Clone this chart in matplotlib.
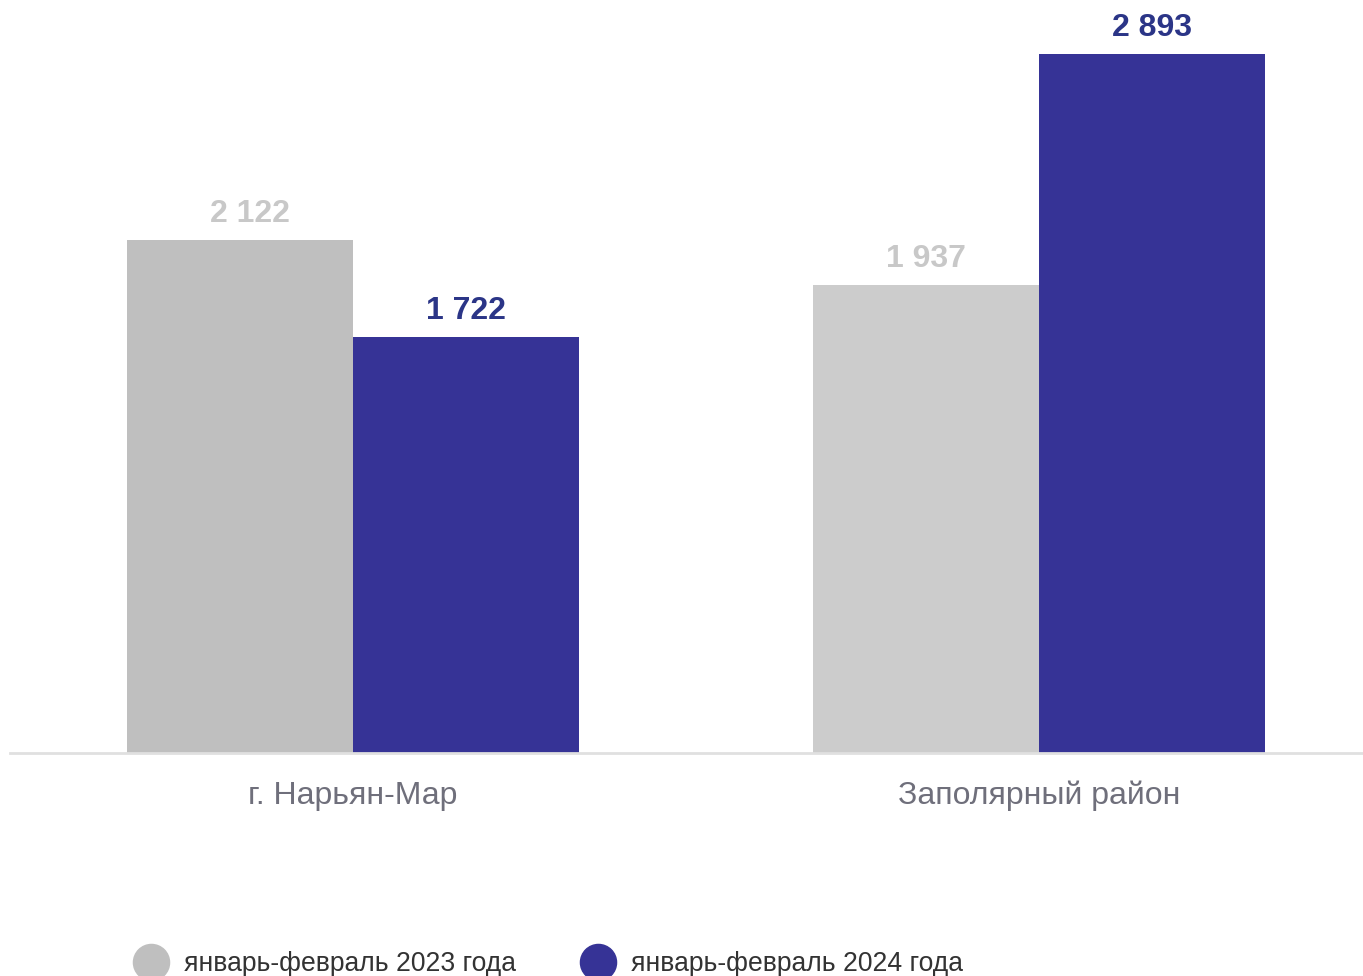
import matplotlib
matplotlib.use("Agg")
import matplotlib.pyplot as plt
from matplotlib.lines import Line2D
import numpy as np

plt.rcParams['font.family'] = ['Liberation Sans', 'DejaVu Sans']

categories = ['г. Нарьян-Мар', 'Заполярный район']
values_2023 = [2122, 1937]
values_2024 = [1722, 2893]
labels_2023 = ['2 122', '1 937']
labels_2024 = ['1 722', '2 893']
series_names = ['январь-февраль 2023 года', 'январь-февраль 2024 года']

grey_bars = ['#bfbfbf', '#cccccc']
blue = '#363396'
grey_text = '#c8c8c8'
blue_text = '#2b3587'

fig = plt.figure(figsize=(13.63, 9.76), dpi=100)
ax = fig.add_axes([10 / 1363, 0.2285, 1353 / 1363, 0.7715])

x = np.arange(len(categories))
w = 226 / 686

ax.bar(x - w / 2, values_2023, width=w, color=grey_bars, linewidth=0)
ax.bar(x + w / 2, values_2024, width=w, color=blue, linewidth=0)

for i in range(len(categories)):
    ax.annotate(labels_2023[i], (x[i] - w / 2, values_2023[i]), xytext=(7 if i == 0 else 0, 8),
                textcoords='offset points', ha='center', va='bottom',
                fontsize=23, fontweight='bold', color=grey_text)
    ax.annotate(labels_2024[i], (x[i] + w / 2, values_2024[i]), xytext=(0, 8),
                textcoords='offset points', ha='center', va='bottom',
                fontsize=23, fontweight='bold', color=blue_text)

ax.set_xlim(-0.5, 1.472)
ax.set_ylim(0, 3117)
ax.set_xticks(x)
ax.set_xticklabels(categories, fontsize=23, color='#6f6f7b')
ax.tick_params(axis='x', length=0, pad=20)
ax.set_yticks([])
for s in ['top', 'right', 'left']:
    ax.spines[s].set_visible(False)
ax.spines['bottom'].set_color('#e0e0e0')
ax.spines['bottom'].set_linewidth(2)

handles = [Line2D([], [], marker='o', linestyle='none', markersize=26,
                  markerfacecolor=c, markeredgecolor=c)
           for c in ['#bfbfbf', blue]]
fig.legend(handles, series_names, loc='center left', bbox_to_anchor=(0.0738, 0.012),
           ncol=2, frameon=False, fontsize=19.1, handletextpad=0.24,
           columnspacing=2.09, labelcolor='#333333')

fig.savefig('out.png', dpi=100)
